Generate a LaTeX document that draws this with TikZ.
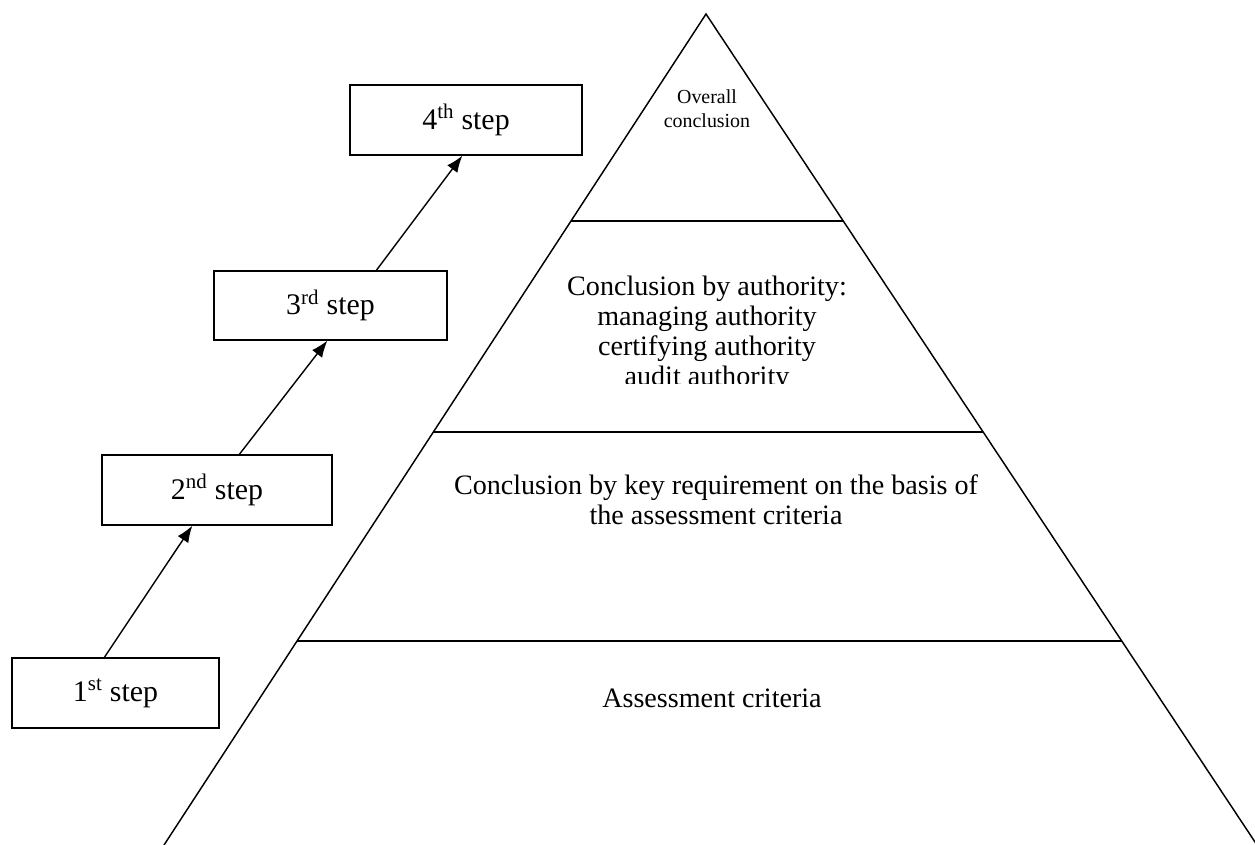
\documentclass[tikz,border=0pt]{standalone}
\usepackage{fontspec}
\setmainfont{Liberation Serif}
\usetikzlibrary{arrows.meta,calc}
\begin{document}
\begin{tikzpicture}[x=0.03cm,y=-0.03cm,
  stepbox/.style={draw,line width=1.1pt,inner sep=0pt,minimum height=2.1cm,font=\fontsize{25.5}{29}\selectfont},
  edge/.style={line width=1.25pt},
  arr/.style={line width=1.2pt,-{Latex[length=0.5cm,width=0.38cm]}},
  lbl/.style={inner sep=0pt,align=center,font=\fontsize{24}{25.6}\selectfont},
  small/.style={inner sep=0pt,align=center,font=\fontsize{17}{20.5}\selectfont}]
\useasboundingbox (0,0) rectangle (1255,845);
% pyramid
\coordinate (apex) at (706,14);
\coordinate (bl) at (164,845);
\coordinate (br) at (1257,845);
\draw[edge] (bl) -- (apex) -- (br);
\draw[edge] ($(apex)!0.2491!(bl)$) coordinate (l1) -- ($(apex)!0.2491!(br)$) coordinate (r1);
\draw[edge] ($(apex)!0.5030!(bl)$) coordinate (l2) -- ($(apex)!0.5030!(br)$) coordinate (r2);
\draw[edge] ($(apex)!0.7545!(bl)$) coordinate (l3) -- ($(apex)!0.7545!(br)$) coordinate (r3);
% texts
\node[small,anchor=north] (t0) at (707,89) {Overall\\conclusion};
\begin{scope}
\clip (540,250) rectangle (880,383);
\node[lbl,anchor=north] (t1) at (707,276) {Conclusion by authority:\\managing authority\\certifying authority\\audit authority};
\end{scope}
\node[lbl,anchor=north] (t2) at (716,474) {Conclusion by key requirement on the basis of\\the assessment criteria};
\node[lbl,anchor=base] (t3) at (712,707) {Assessment criteria};
% steps
\node[stepbox,minimum width=6.21cm] (s1) at (115.5,693) {1\textsuperscript{st} step};
\node[stepbox,minimum width=6.9cm] (s2) at (217,490) {2\textsuperscript{nd} step};
\node[stepbox,minimum width=6.99cm,minimum height=2.07cm] (s3) at (330.5,305.5) {3\textsuperscript{rd} step};
\node[stepbox,minimum width=6.96cm] (s4) at (466,120) {4\textsuperscript{th} step};
\draw[arr] ([xshift=2.79cm]s1.north west) -- ([xshift=2.73cm]s2.south west);
\draw[arr] ([xshift=4.14cm]s2.north west) -- ([xshift=3.42cm]s3.south west);
\draw[arr] ([xshift=4.89cm]s3.north west) -- ([xshift=3.39cm]s4.south west);
\end{tikzpicture}
\end{document}
